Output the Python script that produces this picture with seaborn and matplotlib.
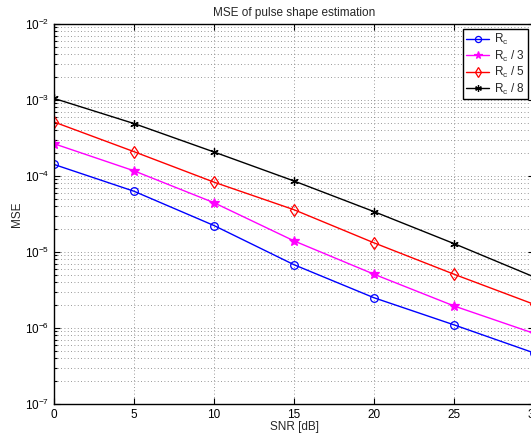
import matplotlib
matplotlib.use("Agg")

import matplotlib.pyplot as plt
import matplotlib.ticker as mticker
import seaborn as sns
import numpy as np

# --- Data ---
snr_db = [0, 5, 10, 15, 20, 25, 30]
mse_rc = [1.42e-4, 6.3e-5, 2.23e-5, 6.8e-6, 2.5e-6, 1.1e-6, 4.7e-7]
mse_rc3 = [2.66e-4, 1.17e-4, 4.45e-5, 1.40e-5, 5.1e-6, 1.95e-6, 8.5e-7]
mse_rc5 = [5.14e-4, 2.09e-4, 8.3e-5, 3.6e-5, 1.32e-5, 5.1e-6, 2.05e-6]
mse_rc8 = [1.05e-3, 4.9e-4, 2.07e-4, 8.6e-5, 3.4e-5, 1.29e-5, 4.7e-6]

labels = [r"R$_\mathregular{c}$", r"R$_\mathregular{c}$ / 3",
          r"R$_\mathregular{c}$ / 5", r"R$_\mathregular{c}$ / 8"]

sns.set_theme(style="ticks")
plt.rcParams["font.family"] = ["Liberation Sans", "DejaVu Sans"]
plt.rcParams["mathtext.fontset"] = "custom"
plt.rcParams["mathtext.rm"] = "Liberation Sans"
plt.rcParams["mathtext.it"] = "Liberation Sans"
plt.rcParams["mathtext.default"] = "regular"

fig = plt.figure(figsize=(5.31, 4.34), dpi=100)
fig.patch.set_facecolor("white")
# axes runs a little past the right edge, as in the cropped original
ax = fig.add_axes([54 / 531, 30 / 434, 480 / 531, 380 / 434])
ax.set_yscale("log")

series = [
    (mse_rc, "blue", "o", "none", 5.5),
    (mse_rc3, "magenta", "*", "magenta", 7),
    (mse_rc5, "red", "d", "none", 6),
    (mse_rc8, "black", (6, 2, 0), "black", 6),
]
for (vals, col, mk, mfc, ms), lab in zip(series, labels):
    sns.lineplot(x=snr_db, y=vals, ax=ax, color=col, marker=mk, mfc=mfc,
                 mec=col, ms=ms, mew=0.9, lw=1.0, label=lab)

ax.set_xlim(0, 30)
ax.set_ylim(1e-7, 1e-2)
ax.set_xticks(snr_db)
ax.yaxis.set_major_locator(mticker.LogLocator(base=10, numticks=10))
ax.yaxis.set_minor_locator(mticker.LogLocator(base=10, subs=np.arange(2, 10), numticks=10))
ax.yaxis.set_minor_formatter(mticker.NullFormatter())

ax.grid(True, which="major", axis="both", color="#777777", linestyle=(0, (1, 3)), lw=0.6)
ax.grid(True, which="minor", axis="y", color="#777777", linestyle=(0, (1, 3)), lw=0.6)
ax.tick_params(which="both", direction="in", top=True, right=True, labelsize=8.5,
               colors="black", width=0.8)
ax.tick_params(which="major", length=4)
ax.tick_params(which="minor", length=2)
for sp in ax.spines.values():
    sp.set_linewidth(1.0)
    sp.set_color("black")

ax.set_xlabel("SNR [dB]", fontsize=8.5, labelpad=0)
ax.set_ylabel("MSE", fontsize=8.5, labelpad=1)
ax.set_title("MSE of pulse shape estimation", fontsize=8.5, pad=6)

leg = ax.legend(loc="upper right", bbox_to_anchor=(474 / 480, 0.987), fontsize=8.5,
                frameon=True, fancybox=False, framealpha=1, edgecolor="black",
                borderpad=0.25, labelspacing=0.12, handlelength=1.9, handletextpad=0.45,
                borderaxespad=0, markerscale=0.8)
leg.get_frame().set_linewidth(1.0)

fig.savefig("out.png", dpi=100)
plt.close(fig)
